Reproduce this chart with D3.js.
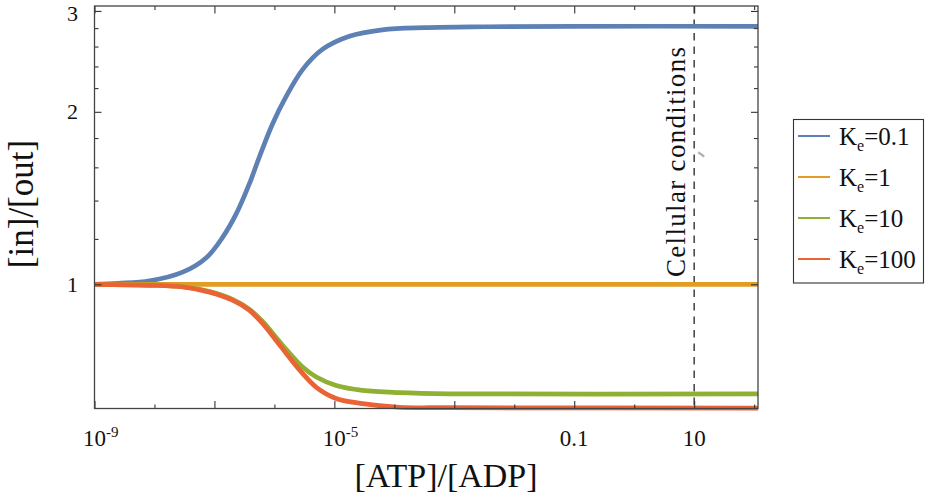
<!DOCTYPE html>
<html>
<head>
<meta charset="utf-8">
<script src="https://cdn.jsdelivr.net/npm/d3@7"></script>
<style>
html,body{margin:0;padding:0;background:#fff;}
svg{display:block;}
text{font-family:"Liberation Serif","DejaVu Serif",serif;fill:#111;}
</style>
</head>
<body>
<svg id="chart" width="925" height="502"></svg>
<script>
// ---------------- data ----------------
const seriesNames = ["0.1", "1", "10", "100"];
const seriesColors = ["#5E81B5", "#E19C24", "#8FB032", "#EB6235"];

const blueX = [1e-9, 2.5e-9, 8.3e-9, 2.95e-8, 7.4e-8, 1.35e-7, 2.34e-7, 3.8e-7, 5.6e-7, 9.3e-7, 1.58e-6, 2.95e-6, 6.3e-6, 1.78e-5, 6.3e-5, 3.2e-4, 3.2e-3, 0.1, 116];
const blueY = [1.000, 1.004, 1.014, 1.050, 1.114, 1.205, 1.331, 1.495, 1.667, 1.905, 2.130, 2.370, 2.570, 2.710, 2.780, 2.805, 2.815, 2.820, 2.820];

const orangeX = [1e-9, 116];
const orangeY = [1.0, 1.0];

const greenX = [1e-9, 8.3e-9, 2.95e-8, 8.3e-8, 2e-7, 3.8e-7, 6.3e-7, 1.38e-6, 2.95e-6, 5e-6, 1.07e-5, 2.95e-5, 1.2e-4, 8.3e-4, 116];
const greenY = [1.000, 0.997, 0.990, 0.971, 0.941, 0.905, 0.862, 0.782, 0.717, 0.689, 0.666, 0.653, 0.647, 0.644, 0.644];

const redX = [1e-9, 8.3e-9, 2.95e-8, 8.3e-8, 2e-7, 3.8e-7, 6.3e-7, 1.07e-6, 1.78e-6, 2.95e-6, 5e-6, 1.07e-5, 2.95e-5, 1.2e-4, 8.3e-4, 116];
const redY = [1.000, 0.996, 0.989, 0.969, 0.938, 0.901, 0.855, 0.798, 0.745, 0.699, 0.661, 0.632, 0.619, 0.610, 0.609, 0.608];

const xDomain = [1e-9, 116];
const yDomain = [0.607, 3.06];
const xDecades = [1e-9, 1e-8, 1e-7, 1e-6, 1e-5, 1e-4, 1e-3, 1e-2, 1e-1, 1, 10, 100];
const xMajor = [1e-9, 1e-7, 1e-5, 1e-3, 1e-1, 10];
const xLabelVals = [1e-9, 1e-5, 0.1, 10];
const xLabelText = [["10", "-9"], ["10", "-5"], ["0.1", ""], ["10", ""]];
const yMajor = [1, 2, 3];
const yMinor = [1.2, 1.4, 1.6, 1.8, 2.2, 2.4, 2.6, 2.8];
const cellularX = 10;
const slashX = [11.7, 14.7];
const slashY = [1.70, 1.67];

// ---------------- layout ----------------
const svg = d3.select("#chart");
const L = 94.5, R = 758, T = 6, B = 408.5;
const x = d3.scaleLog().domain(xDomain).range([L, R]);
const y = d3.scaleLog().domain(yDomain).range([B, T]);

const series = [
  {xs: blueX, ys: blueY},
  {xs: orangeX, ys: orangeY},
  {xs: greenX, ys: greenY},
  {xs: redX, ys: redY}
];

svg.append("clipPath").attr("id", "clip").append("rect")
  .attr("x", L - 3).attr("y", T - 10).attr("width", R - L + 3).attr("height", B - T + 20);

// dashed cellular line
svg.append("line")
  .attr("x1", x(cellularX)).attr("x2", x(cellularX))
  .attr("y1", y(yDomain[1])).attr("y2", y(yDomain[0]))
  .attr("stroke", "#333").attr("stroke-width", 1.4).attr("stroke-dasharray", "7.5,6");

// curves
const line = d3.line().x(d => x(d[0])).y(d => y(d[1])).curve(d3.curveCatmullRom.alpha(0.5));
const g = svg.append("g").attr("clip-path", "url(#clip)");
series.forEach((s, i) => {
  const pts = s.xs.map((v, j) => [v, s.ys[j]]);
  g.append("path").datum(pts).attr("d", line)
    .attr("fill", "none").attr("stroke", seriesColors[i]).attr("stroke-width", 4.7);
});

// small gray slash annotation
svg.append("line")
  .attr("x1", x(slashX[0])).attr("y1", y(slashY[0]))
  .attr("x2", x(slashX[1])).attr("y2", y(slashY[1]))
  .attr("stroke", "#b0b0b0").attr("stroke-width", 2.2);

// axes ticks
function styleAxis(sel) {
  sel.select(".domain").remove();
  sel.selectAll(".tick line").attr("stroke", "#333").attr("stroke-width", 1.1);
  sel.selectAll(".tick text").remove();
}
const xMinor = xDecades.filter(v => !xMajor.includes(v));
svg.append("g").attr("transform", `translate(0,${B})`).call(d3.axisBottom(x).tickValues(xMajor).tickSize(-7.5).tickFormat("")).call(styleAxis);
svg.append("g").attr("transform", `translate(0,${B})`).call(d3.axisBottom(x).tickValues(xMinor).tickSize(-4).tickFormat("")).call(styleAxis);
svg.append("g").attr("transform", `translate(0,${T})`).call(d3.axisTop(x).tickValues(xMajor).tickSize(-7.5).tickFormat("")).call(styleAxis);
svg.append("g").attr("transform", `translate(0,${T})`).call(d3.axisTop(x).tickValues(xMinor).tickSize(-4).tickFormat("")).call(styleAxis);
svg.append("g").attr("transform", `translate(${L},0)`).call(d3.axisLeft(y).tickValues(yMajor).tickSize(-7).tickFormat("")).call(styleAxis);
svg.append("g").attr("transform", `translate(${L},0)`).call(d3.axisLeft(y).tickValues(yMinor).tickSize(-4).tickFormat("")).call(styleAxis);
svg.append("g").attr("transform", `translate(${R},0)`).call(d3.axisRight(y).tickValues(yMajor).tickSize(-7).tickFormat("")).call(styleAxis);
svg.append("g").attr("transform", `translate(${R},0)`).call(d3.axisRight(y).tickValues(yMinor).tickSize(-4).tickFormat("")).call(styleAxis);

// frame
svg.append("rect").attr("x", L).attr("y", T).attr("width", R - L).attr("height", B - T)
  .attr("fill", "none").attr("stroke", "#444").attr("stroke-width", 1.3);

// y tick labels (kept fully inside the picture at the top)
svg.append("g").selectAll("text").data(yMajor).join("text")
  .attr("x", 78).attr("y", d => Math.max(y(d), 14)).attr("dy", "0.34em")
  .attr("text-anchor", "end").attr("font-size", 22).text(d => d);

// x tick labels
xLabelVals.forEach((v, i) => {
  const [base, sup] = xLabelText[i];
  const t = svg.append("text").attr("y", 446).attr("font-size", 23);
  const b = t.append("tspan").text(base);
  if (sup) t.append("tspan").attr("font-size", 15).attr("dy", -9).text(sup);
  const bw = b.node().getComputedTextLength();
  t.attr("x", x(v) - bw / 2);
});

// axis titles
svg.append("text").attr("x", 446).attr("y", 487).attr("text-anchor", "middle")
  .attr("font-size", 34).text("[ATP]/[ADP]");
svg.append("text").attr("transform", "translate(33,204) rotate(-90)").attr("text-anchor", "middle")
  .attr("font-size", 35).text("[in]/[out]");

// cellular conditions label
svg.append("text").attr("transform", `translate(${x(cellularX) - 9},277) rotate(-90)`)
  .attr("font-size", 27).attr("textLength", 230).attr("lengthAdjust", "spacing")
  .text("Cellular conditions");

// legend
const lg = svg.append("g");
lg.append("rect").attr("x", 793.5).attr("y", 119.5).attr("width", 130).attr("height", 163.5)
  .attr("fill", "#fff").attr("stroke", "#333").attr("stroke-width", 1.1);
seriesNames.forEach((n, i) => {
  const yy = 136 + i * 41;
  lg.append("line").attr("x1", 798).attr("x2", 830).attr("y1", yy).attr("y2", yy)
    .attr("stroke", seriesColors[i]).attr("stroke-width", 2);
  const t = lg.append("text").attr("x", 839).attr("y", yy + 8.5).attr("font-size", 25);
  t.append("tspan").text("K");
  t.append("tspan").attr("font-size", 16).attr("dy", 6).text("e");
  t.append("tspan").attr("dy", -6).text("=" + n);
});
</script>
</body>
</html>
